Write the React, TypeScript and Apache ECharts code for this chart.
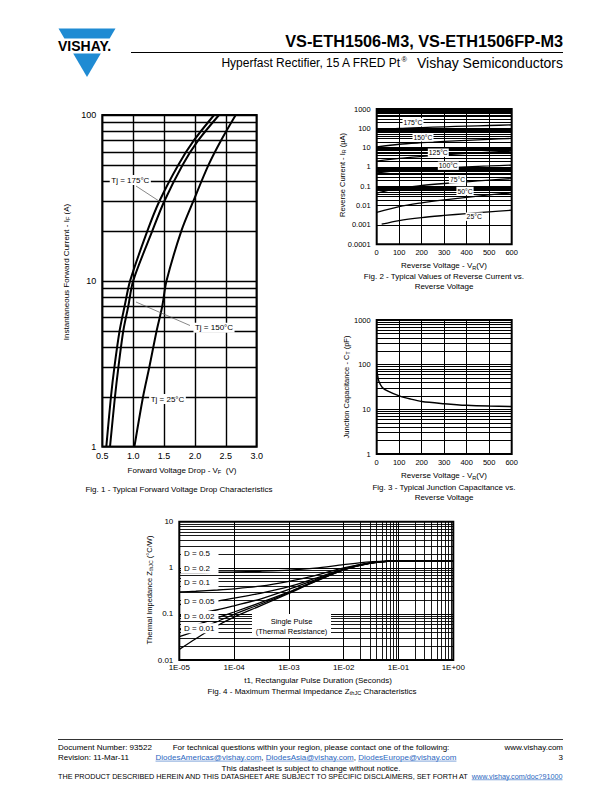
import React, { useEffect, useRef } from 'react';
import * as echarts from 'echarts';

const FONT = '"Liberation Sans", Arial, Helvetica, sans-serif';
const BLUE = '#1f8bd3';
const LINK = '#2a66c0';

// ---------- Fig. 1 : forward voltage drop ----------
const fig1CurrentA = [1, 2, 3, 5, 7, 10, 20, 30, 50, 70, 100];
const fig1Vf175 = [0.565, 0.64, 0.695, 0.78, 0.86, 0.95, 1.23, 1.42, 1.73, 1.98, 2.31];
const fig1Vf150 = [0.625, 0.705, 0.76, 0.84, 0.92, 1.0, 1.31, 1.5, 1.8, 2.05, 2.39];
const fig1Vf25 = [1.02, 1.16, 1.26, 1.38, 1.47, 1.54, 1.78, 1.97, 2.22, 2.42, 2.66];
const fig1YLabels = ['1', '10', '100'];
const fig1TempLabels = ['Tj = 175°C', 'Tj = 150°C', 'Tj = 25°C'];

// ---------- Fig. 2 : reverse current ----------
const fig2Vr = [0, 100, 200, 300, 400, 500, 600];
const fig2Vr25 = [22, 100, 200, 300, 400, 500, 600];
const fig2Ir175 = [80, 98, 110, 120, 130, 140, 150];
const fig2Ir150 = [11, 15, 18, 21, 24, 27, 30];
const fig2Ir125 = [2.0, 2.8, 3.5, 4.2, 5.0, 5.8, 6.6];
const fig2Ir100 = [0.5, 0.65, 0.78, 0.9, 1.02, 1.13, 1.25];
const fig2Ir75 = [0.045, 0.08, 0.11, 0.14, 0.17, 0.21, 0.25];
const fig2Ir50 = [0.0045, 0.009, 0.014, 0.02, 0.027, 0.036, 0.046];
const fig2Ir25 = [0.0011, 0.0017, 0.0024, 0.0031, 0.0039, 0.0048, 0.0058];
const fig2YLabels = ['0.0001', '0.001', '0.01', '0.1', '1', '10', '100', '1000'];
const fig2TempLabels = ['175°C', '150°C', '125°C', '100°C', '75°C', '50°C', '25°C'];

// ---------- Fig. 3 : junction capacitance ----------
const fig3Vr = [0, 5, 10, 25, 50, 100, 150, 200, 300, 400, 500, 600];
const fig3Ct = [80, 54, 42, 31, 25.5, 20, 17, 15, 13.4, 12.3, 11.8, 11.6];
const fig3YLabels = ['1', '10', '100', '1000'];

// ---------- Fig. 4 : thermal impedance ----------
const fig4T = [1e-5, 2e-5, 5e-5, 1e-4, 3e-4, 1e-3, 3e-3, 1e-2, 3e-2, 7e-2, 1e-1, 1];
const fig4D05 = [0.79, 0.79, 0.8, 0.81, 0.84, 0.89, 0.98, 1.17, 1.35, 1.41, 1.42, 1.42];
const fig4D02 = [0.3, 0.31, 0.33, 0.35, 0.4, 0.51, 0.68, 1.0, 1.28, 1.41, 1.42, 1.42];
const fig4D01 = [0.16, 0.17, 0.19, 0.22, 0.28, 0.39, 0.59, 0.95, 1.27, 1.4, 1.42, 1.42];
const fig4D005 = [0.09, 0.1, 0.123, 0.15, 0.21, 0.34, 0.55, 0.93, 1.26, 1.4, 1.42, 1.42];
const fig4D002 = [0.045, 0.057, 0.083, 0.11, 0.175, 0.3, 0.52, 0.91, 1.26, 1.4, 1.42, 1.42];
const fig4D001 = [0.032, 0.043, 0.069, 0.098, 0.162, 0.29, 0.51, 0.905, 1.25, 1.4, 1.42, 1.42];
const fig4Single = [0.017, 0.029, 0.056, 0.085, 0.15, 0.28, 0.5, 0.9, 1.25, 1.4, 1.42, 1.42];
const fig4XLabels = ['1E-05', '1E-04', '1E-03', '1E-02', '1E-01', '1E+00'];
const fig4YLabels = ['0.01', '0.1', '1', '10'];
const fig4DutyLabels = ['D = 0.5', 'D = 0.2', 'D = 0.1', 'D = 0.05', 'D = 0.02', 'D = 0.01'];

// ---------- helpers ----------
let _ctx: CanvasRenderingContext2D | null = null;
function measure(t: string, size: number, weight = 'normal') {
  if (!_ctx) _ctx = document.createElement('canvas').getContext('2d');
  _ctx!.font = `${weight} ${size}px ${FONT}`;
  return _ctx!.measureText(t).width;
}

type Part = { t: string; s?: number; dy?: number; w?: string; c?: string; u?: boolean };

function textRun(parts: Part[], x: number, y: number, align: 'left' | 'center' | 'right', size: number, rotation = 0) {
  const widths = parts.map((p) => measure(p.t, p.s ?? size, p.w ?? 'normal'));
  const total = widths.reduce((a, b) => a + b, 0);
  let cx = align === 'left' ? 0 : align === 'center' ? -total / 2 : -total;
  const children: any[] = [];
  parts.forEach((p, i) => {
    const fs = p.s ?? size;
    children.push({
      type: 'text', x: cx, y: p.dy ?? 0, z: 100, silent: true,
      style: {
        text: p.t, fontSize: fs, fontFamily: FONT, fontWeight: p.w ?? 'normal', fill: p.c ?? '#000',
        align: 'left', verticalAlign: 'middle', textAlign: 'left', textVerticalAlign: 'middle',
      },
    });
    if (p.u) {
      const uy = (p.dy ?? 0) + fs * 0.45;
      children.push({ type: 'line', z: 100, silent: true, shape: { x1: cx, y1: uy, x2: cx + widths[i], y2: uy }, style: { stroke: p.c ?? '#000', lineWidth: 0.6 } });
    }
    cx += widths[i];
  });
  return { type: 'group', x, y, rotation, z: 100, silent: true, children };
}

function sub(t: string, base: number): Part {
  return { t, s: base * 0.7, dy: base * 0.28 };
}

function boxedText(t: string, cx: number, cy: number, size: number, padX = 1.5, padY = 1) {
  const w = measure(t, size);
  return [
    { type: 'rect', z: 99, silent: true, shape: { x: cx - w / 2 - padX, y: cy - size / 2 - padY, width: w + 2 * padX, height: size + 2 * padY }, style: { fill: '#fff' } },
    textRun([{ t }], cx, cy, 'center', size),
  ];
}

function minorLines(fromExp: number, toExp: number) {
  const out: number[] = [];
  for (let e = fromExp; e < toExp; e++) for (let m = 2; m <= 9; m++) out.push(+(m * Math.pow(10, e)).toPrecision(6));
  return out;
}

function buildOption() {
  const axisBase = { axisLine: { show: false }, axisTick: { show: false } };
  const lbl = (size: number, margin: number, formatter: any) => ({ fontFamily: FONT, fontSize: size, color: '#000', margin, formatter });
  const split = (w: number) => ({ show: true, lineStyle: { color: '#000', width: w, type: 'solid' } });
  const expIdx = (v: number) => Math.round(Math.log10(v));

  const grid = [
    { left: 102.3, top: 115, width: 154.4, height: 331.7 },
    { left: 376.7, top: 109, width: 135, height: 135.3 },
    { left: 376.7, top: 320, width: 135, height: 134 },
    { left: 179.3, top: 521.7, width: 274, height: 138.3 },
  ].map((g) => ({ ...g, show: true, borderColor: '#000', borderWidth: 2, backgroundColor: 'transparent' }));

  const xAxis = [
    { ...axisBase, gridIndex: 0, type: 'value', min: 0.5, max: 3, interval: 0.5, splitLine: split(1.4), axisLabel: lbl(9, 5, (v: number) => v.toFixed(1)) },
    { ...axisBase, gridIndex: 1, type: 'value', min: 0, max: 600, interval: 100, splitLine: split(1), axisLabel: lbl(7.5, 4, (v: number) => String(v)) },
    { ...axisBase, gridIndex: 2, type: 'value', min: 0, max: 600, interval: 100, splitLine: split(1), axisLabel: lbl(7.5, 4, (v: number) => String(v)) },
    { ...axisBase, gridIndex: 3, type: 'log', logBase: 10, min: 1e-5, max: 1, splitLine: split(1), axisLabel: lbl(8, 3, (v: number) => fig4XLabels[expIdx(v) + 5]) },
  ];
  const yAxis = [
    { ...axisBase, gridIndex: 0, type: 'log', logBase: 10, min: 1, max: 100, splitLine: split(1.4), axisLabel: lbl(9, 6, (v: number) => fig1YLabels[expIdx(v)]) },
    { ...axisBase, gridIndex: 1, type: 'log', logBase: 10, min: 1e-4, max: 1000, splitLine: split(1), axisLabel: lbl(7.5, 6, (v: number) => fig2YLabels[expIdx(v) + 4]) },
    { ...axisBase, gridIndex: 2, type: 'log', logBase: 10, min: 1, max: 1000, splitLine: split(1), axisLabel: lbl(7.5, 6, (v: number) => fig3YLabels[expIdx(v)]) },
    { ...axisBase, gridIndex: 3, type: 'log', logBase: 10, min: 0.01, max: 10, splitLine: split(1), axisLabel: lbl(8, 6, (v: number) => fig4YLabels[expIdx(v) + 2]) },
  ];

  const curve = (gi: number, xs: number[], ys: number[], width: number) => ({
    type: 'line', xAxisIndex: gi, yAxisIndex: gi, data: xs.map((x, k) => [x, ys[k]]),
    showSymbol: false, symbol: 'none', smooth: 0.3, silent: true, z: 6,
    lineStyle: { color: '#000', width }, itemStyle: { color: '#000' }, emphasis: { disabled: true },
  });
  const gridLines = (gi: number, yVals: number[], xVals: number[], width: number) => ({
    type: 'line', xAxisIndex: gi, yAxisIndex: gi, data: [], silent: true, z: 1,
    markLine: {
      silent: true, symbol: ['none', 'none'], label: { show: false }, z: 1, animation: false,
      lineStyle: { color: '#000', width, type: 'solid' }, emphasis: { disabled: true },
      data: [...yVals.map((v) => ({ yAxis: v })), ...xVals.map((v) => ({ xAxis: v }))],
    },
  });

  const series = [
    gridLines(0, minorLines(0, 2), [], 1.4),
    curve(0, fig1Vf175, fig1CurrentA, 2),
    curve(0, fig1Vf150, fig1CurrentA, 2),
    curve(0, fig1Vf25, fig1CurrentA, 2),

    gridLines(1, minorLines(-4, 3), [], 1),
    curve(1, fig2Vr, fig2Ir175, 1.3),
    curve(1, fig2Vr, fig2Ir150, 1.3),
    curve(1, fig2Vr, fig2Ir125, 1.3),
    curve(1, fig2Vr, fig2Ir100, 1.3),
    curve(1, fig2Vr, fig2Ir75, 1.3),
    curve(1, fig2Vr, fig2Ir50, 1.3),
    curve(1, fig2Vr25, fig2Ir25, 1.3),

    gridLines(2, minorLines(0, 3), [], 1),
    curve(2, fig3Vr, fig3Ct, 1.5),

    gridLines(3, minorLines(-2, 1), minorLines(-5, 0), 0.9),
    curve(3, fig4T, fig4D05, 1.3),
    curve(3, fig4T, fig4D02, 1.3),
    curve(3, fig4T, fig4D01, 1.3),
    curve(3, fig4T, fig4D005, 1.3),
    curve(3, fig4T, fig4D002, 1.3),
    curve(3, fig4T, fig4D001, 1.3),
    curve(3, fig4T, fig4Single, 1.3),
  ];

  const els: any[] = [];
  // ----- header -----
  els.push({ type: 'polygon', z: 100, silent: true, shape: { points: [[58.5, 28.5], [115.5, 28.5], [109.6, 38.5], [64.4, 38.5]] }, style: { fill: BLUE } });
  els.push({ type: 'polygon', z: 100, silent: true, shape: { points: [[73.2, 53.5], [100.8, 53.5], [87, 77]] }, style: { fill: BLUE } });
  els.push(textRun([{ t: 'VISHAY.', w: 'bold' }], 58, 46.3, 'left', 14));
  els.push(textRun([{ t: 'VS-ETH1506-M3, VS-ETH1506FP-M3', w: 'bold' }], 563, 41, 'right', 16.3));
  els.push({ type: 'line', z: 100, silent: true, shape: { x1: 131, y1: 52.5, x2: 563, y2: 52.5 }, style: { stroke: '#000', lineWidth: 1 } });
  const vsW = measure('Vishay Semiconductors', 14);
  els.push(textRun([{ t: 'Vishay Semiconductors' }], 563, 63, 'right', 14));
  els.push(textRun([{ t: 'Hyperfast Rectifier, 15 A FRED Pt' }, { t: '®', s: 7.5, dy: -3.5 }], 563 - vsW - 10, 63, 'right', 12));

  // ----- Fig. 1 texts -----
  els.push(textRun([{ t: 'Instantaneous Forward Current - I' }, sub('F', 8), { t: ' (A)' }], 66, 272, 'center', 8, Math.PI / 2));
  els.push(textRun([{ t: 'Forward Voltage Drop - V' }, sub('F', 8), { t: '  (V)' }], 182, 470, 'center', 8));
  els.push(textRun([{ t: 'Fig. 1 - Typical Forward Voltage Drop Characteristics' }], 179, 489, 'center', 8));
  els.push({ type: 'line', z: 100, silent: true, shape: { x1: 136, y1: 186, x2: 160, y2: 201.7 }, style: { stroke: '#555', lineWidth: 0.7 } });
  els.push({ type: 'line', z: 100, silent: true, shape: { x1: 136, y1: 302, x2: 190, y2: 325.5 }, style: { stroke: '#555', lineWidth: 0.7 } });
  const fig1LabelPos = [[130.3, 180], [214, 327.7], [167.5, 399]];
  fig1TempLabels.forEach((t, i) => els.push(...boxedText(t, fig1LabelPos[i][0], fig1LabelPos[i][1], 8)));

  // ----- Fig. 2 texts -----
  els.push(textRun([{ t: 'Reverse Current - I' }, sub('R', 7.5), { t: ' (µA)' }], 342, 175, 'center', 7.5, Math.PI / 2));
  els.push(textRun([{ t: 'Reverse Voltage - V' }, sub('R', 8), { t: '(V)' }], 444, 265.5, 'center', 8));
  els.push(textRun([{ t: 'Fig. 2 - Typical Values of Reverse Current vs.' }], 444, 276.5, 'center', 8));
  els.push(textRun([{ t: 'Reverse Voltage' }], 444, 286.5, 'center', 8));
  const fig2LabelPos = [[413, 122.3], [423, 137.3], [438.3, 152.7], [448.3, 165.7], [457.5, 179.3], [465, 191], [474.2, 216.7]];
  fig2TempLabels.forEach((t, i) => els.push(...boxedText(t, fig2LabelPos[i][0], fig2LabelPos[i][1], 6.8, 1, 0.8)));

  // ----- Fig. 3 texts -----
  els.push(textRun([{ t: 'Junction Capacitance - C' }, sub('T', 7.5), { t: ' (pF)' }], 346, 387, 'center', 7.5, Math.PI / 2));
  els.push(textRun([{ t: 'Reverse Voltage - V' }, sub('R', 8), { t: '(V)' }], 444, 475.5, 'center', 8));
  els.push(textRun([{ t: 'Fig. 3 - Typical Junction Capacitance vs.' }], 444, 487, 'center', 8));
  els.push(textRun([{ t: 'Reverse Voltage' }], 444, 497, 'center', 8));

  // ----- Fig. 4 texts -----
  els.push(textRun([{ t: 'Thermal Impedance Z' }, sub('thJC', 7.5), { t: ' (°C/W)' }], 149, 590, 'center', 7.5, Math.PI / 2));
  els.push(textRun([{ t: 't1, Rectangular Pulse Duration (Seconds)' }], 318, 680.7, 'center', 8));
  els.push(textRun([{ t: 'Fig. 4 - Maximum Thermal Impedance Z' }, sub('thJC', 8), { t: ' Characteristics' }], 312, 691, 'center', 8));
  const fig4LabelY = [553.3, 568.3, 582.3, 601.7, 616, 628.3];
  fig4DutyLabels.forEach((t, i) => {
    els.push({ type: 'rect', z: 99, silent: true, shape: { x: 181, y: fig4LabelY[i] - 5, width: 37.5, height: 10 }, style: { fill: '#fff' } });
    els.push(textRun([{ t }], 184, fig4LabelY[i], 'left', 8));
  });
  els.push({ type: 'rect', z: 99, silent: true, shape: { x: 252, y: 614, width: 79, height: 24 }, style: { fill: '#fff' } });
  els.push(textRun([{ t: 'Single Pulse' }], 291.5, 621, 'center', 7.5));
  els.push(textRun([{ t: '(Thermal Resistance)' }], 291.5, 631, 'center', 7.5));

  // ----- footer -----
  els.push({ type: 'line', z: 100, silent: true, shape: { x1: 58, y1: 739.5, x2: 563, y2: 739.5 }, style: { stroke: '#000', lineWidth: 0.8 } });
  const fs = 8;
  els.push(textRun([{ t: 'Document Number: 93522' }], 58, 747, 'left', fs));
  els.push(textRun([{ t: 'Revision: 11-Mar-11' }], 58, 757.5, 'left', fs));
  els.push(textRun([{ t: 'For technical questions within your region, please contact one of the following:' }], 311, 747, 'center', fs));
  els.push(textRun([
    { t: 'DiodesAmericas@vishay.com', c: LINK, u: true }, { t: ', ' },
    { t: 'DiodesAsia@vishay.com', c: LINK, u: true }, { t: ', ' },
    { t: 'DiodesEurope@vishay.com', c: LINK, u: true },
  ], 306, 757.5, 'center', fs));
  els.push(textRun([{ t: 'www.vishay.com' }], 563, 747, 'right', fs));
  els.push(textRun([{ t: '3' }], 563, 757.5, 'right', fs));
  els.push(textRun([{ t: 'This datasheet is subject to change without notice.' }], 311, 768, 'center', fs));
  const disc = 'THE PRODUCT DESCRIBED HEREIN AND THIS DATASHEET ARE SUBJECT TO SPECIFIC DISCLAIMERS, SET FORTH AT ';
  const discLink = 'www.vishay.com/doc?91000';
  const discSize = (7 * 505) / (measure(disc, 7) + measure(discLink, 7));
  els.push(textRun([{ t: disc }, { t: discLink, c: LINK, u: true }], 58, 776.5, 'left', discSize));

  return {
    animation: false,
    backgroundColor: '#fff',
    grid, xAxis, yAxis, series,
    graphic: { elements: els },
  };
}

export default function App() {
  const ref = useRef<HTMLDivElement>(null);
  useEffect(() => {
    if (!ref.current) return;
    const chart = echarts.init(ref.current, undefined, { renderer: 'svg' });
    chart.setOption(buildOption() as any);
    return () => chart.dispose();
  }, []);
  return <div ref={ref} style={{ position: 'absolute', left: 0, top: 0, width: 612, height: 792, background: '#fff' }} />;
}
